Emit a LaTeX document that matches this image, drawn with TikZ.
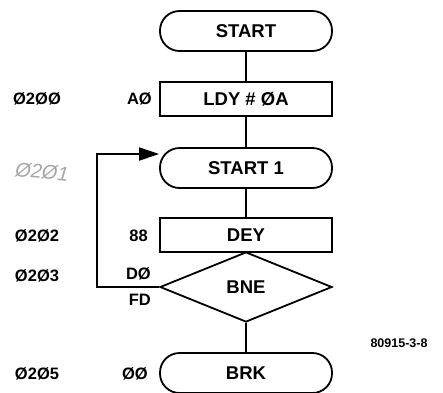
\documentclass[tikz,border=0pt]{standalone}
\usepackage{fontspec}
\setmainfont{Liberation Sans}
\usetikzlibrary{shapes.geometric,arrows.meta}
\tikzset{
  base/.style={draw=black,line width=1.8pt,inner sep=0pt,font=\fontsize{18.5}{20}\selectfont\bfseries},
  term/.style={base,rectangle,rounded corners=19.5pt,minimum width=172pt,minimum height=40pt},
  procbox/.style={base,rectangle,minimum width=172pt,minimum height=34pt},
  decide/.style={base,diamond,aspect=2.46,minimum width=172pt,minimum height=70pt},
  lbl/.style={inner sep=0pt,font=\fontsize{16.5}{18}\selectfont\bfseries},
  conn/.style={line width=1.8pt},
}
\begin{document}
\begin{tikzpicture}[x=1pt,y=-1pt]
\useasboundingbox (0,0) rectangle (443,392);
\node[term] (start) at (246,31) {START};
\node[procbox] (ldy) at (246,99) {LDY \# ØA};
\node[term] (start1) at (246,168) {START 1};
\node[procbox] (dey) at (246,235) {DEY};
\node[decide] (bne) at (246,287) {BNE};
\node[term] (brk) at (246,373) {BRK};

\draw[conn] (start) -- (ldy);
\draw[conn] (ldy) -- (start1);
\draw[conn] (start1) -- (dey);
\draw[conn] (bne) -- (brk);
\coordinate (lp) at (97,154);
\draw[conn,-{Triangle[length=20pt,width=13pt]}] (bne.west) -| (lp) -- (lp -| start1.west);

\node[lbl] (a0) at (37,99) {Ø2ØØ};
\node[lbl] (a2) at (37,236) {Ø2Ø2};
\node[lbl] (a3) at (37,276) {Ø2Ø3};
\node[lbl] (a5) at (37,374) {Ø2Ø5};
\node[lbl,anchor=east] (c0) at (152,99) {AØ};
\node[lbl,anchor=east] (c2) at (148,236) {88};
\node[lbl,anchor=east] (c3) at (151,274) {DØ};
\node[lbl,anchor=east] (c3b) at (151,300) {FD};
\node[lbl,anchor=east] (c5) at (148,374) {ØØ};
\node[inner sep=0pt,font=\fontsize{12.5}{14}\selectfont\bfseries] (ref) at (399,343) {80915-3-8};
\node[inner sep=0pt,text=black!35,rotate=-5,font=\fontsize{20}{22}\selectfont\itshape] (hw) at (42,172) {Ø2Ø1};
\end{tikzpicture}
\end{document}
